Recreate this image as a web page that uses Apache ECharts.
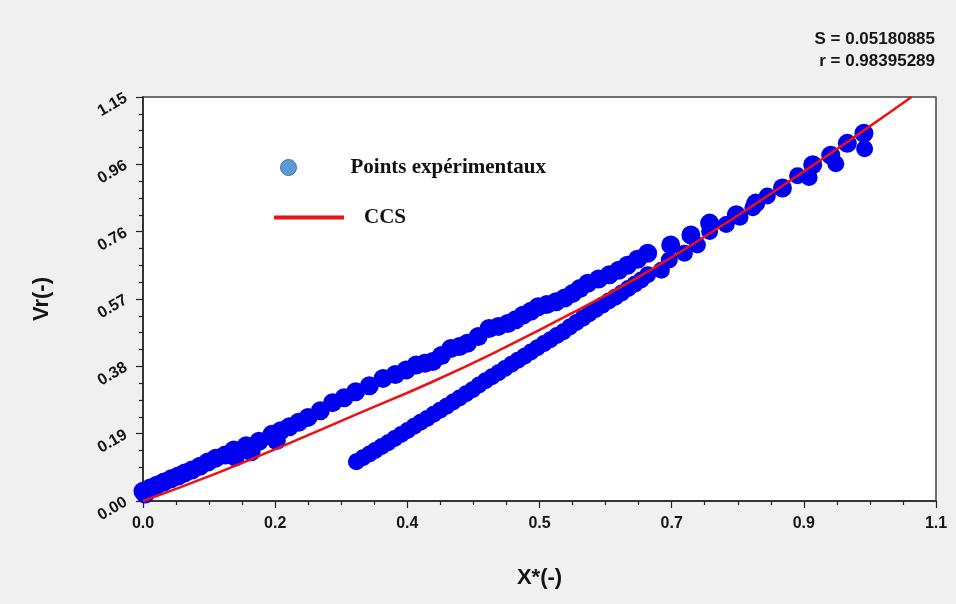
<!DOCTYPE html>
<html>
<head>
<meta charset="utf-8">
<script src="https://cdn.jsdelivr.net/npm/echarts@6/dist/echarts.min.js"></script>
<style>
  html, body { margin: 0; padding: 0; background: #f0f0f0; }
  #chart { width: 956px; height: 604px; }
</style>
</head>
<body>
<div id="chart"></div>
<script>
// Tick labels as printed on each axis (six equal steps of the axis range)
const xTickLabels = ['0.0', '0.2', '0.4', '0.5', '0.7', '0.9', '1.1'];
const yTickLabels = ['0.00', '0.19', '0.38', '0.57', '0.76', '0.96', '1.15'];
const xMax = 1.1;
const yMax = 1.15;

// Experimental points, first branch (from the origin upward)
const upperX = [0.000, 0.003, 0.010, 0.019, 0.029, 0.039, 0.049, 0.058, 0.068, 0.079, 0.090, 0.101, 0.114, 0.126, 0.128, 0.143, 0.150, 0.161, 0.179, 0.185, 0.191, 0.203, 0.216, 0.229, 0.246, 0.263, 0.279, 0.295, 0.314, 0.333, 0.350, 0.365, 0.379, 0.391, 0.402, 0.414, 0.427, 0.439, 0.450, 0.465, 0.480, 0.493, 0.506, 0.517, 0.527, 0.538, 0.548, 0.560, 0.573, 0.585, 0.596, 0.606, 0.617, 0.632, 0.647, 0.660, 0.672, 0.686, 0.700, 0.732, 0.760, 0.786, 0.823, 0.850, 0.887, 0.929, 0.954, 0.977, 1.000];
const upperY = [0.028, 0.020, 0.037, 0.045, 0.054, 0.063, 0.071, 0.080, 0.088, 0.099, 0.111, 0.122, 0.131, 0.145, 0.125, 0.157, 0.140, 0.170, 0.190, 0.172, 0.200, 0.211, 0.224, 0.238, 0.257, 0.280, 0.294, 0.311, 0.328, 0.349, 0.360, 0.373, 0.387, 0.392, 0.397, 0.414, 0.434, 0.440, 0.449, 0.468, 0.491, 0.497, 0.505, 0.516, 0.529, 0.540, 0.553, 0.559, 0.567, 0.578, 0.591, 0.605, 0.620, 0.632, 0.644, 0.657, 0.671, 0.688, 0.705, 0.729, 0.757, 0.791, 0.815, 0.848, 0.891, 0.957, 0.984, 1.018, 1.047];

// Experimental points, second branch (starting near X* = 0.3)
const lowerX = [0.296, 0.305, 0.314, 0.322, 0.331, 0.340, 0.349, 0.358, 0.367, 0.376, 0.385, 0.394, 0.403, 0.412, 0.421, 0.430, 0.439, 0.448, 0.457, 0.466, 0.475, 0.484, 0.493, 0.502, 0.511, 0.520, 0.529, 0.538, 0.547, 0.556, 0.565, 0.574, 0.583, 0.592, 0.601, 0.610, 0.619, 0.628, 0.637, 0.646, 0.655, 0.664, 0.673, 0.682, 0.691, 0.700, 0.719, 0.730, 0.751, 0.769, 0.786, 0.809, 0.828, 0.846, 0.866, 0.908, 0.924, 0.961, 1.001];
const lowerY = [0.112, 0.123, 0.134, 0.144, 0.155, 0.166, 0.178, 0.189, 0.201, 0.213, 0.224, 0.235, 0.247, 0.258, 0.270, 0.282, 0.293, 0.305, 0.317, 0.330, 0.342, 0.354, 0.365, 0.377, 0.389, 0.401, 0.412, 0.424, 0.436, 0.448, 0.459, 0.471, 0.482, 0.495, 0.508, 0.520, 0.533, 0.545, 0.557, 0.569, 0.580, 0.592, 0.605, 0.617, 0.629, 0.644, 0.657, 0.686, 0.705, 0.729, 0.767, 0.787, 0.808, 0.835, 0.868, 0.926, 0.921, 0.960, 1.003];

// CCS model curve
const ccsX = [0.000, 0.100, 0.200, 0.300, 0.400, 0.500, 0.600, 0.700, 0.800, 0.900, 1.000, 1.066];
const ccsY = [0.000, 0.077, 0.162, 0.250, 0.338, 0.435, 0.540, 0.653, 0.780, 0.915, 1.055, 1.150];

const zip = (xs, ys) => xs.map((x, i) => [x, ys[i]]);
const xStep = xMax / 6;
const yStep = yMax / 6;

const chart = echarts.init(document.getElementById('chart'), null, { renderer: 'canvas' });

const sansBold = { fontFamily: 'Liberation Sans, Arial, sans-serif', fontWeight: 'bold', color: '#151515' };
const serifBold = { fontFamily: 'Liberation Serif, Times New Roman, serif', fontWeight: 'bold', fontSize: 21, color: '#111' };

chart.setOption({
  backgroundColor: '#f0f0f0',
  animation: false,
  title: [
    { text: 'S = 0.05180885', right: 21, top: 31, padding: 0, textStyle: Object.assign({ fontSize: 17 }, sansBold) },
    { text: 'r = 0.98395289', right: 21, top: 53, padding: 0, textStyle: Object.assign({ fontSize: 17 }, sansBold) }
  ],
  legend: [
    {
      data: [{ name: 'Points expérimentaux', icon: 'circle', itemStyle: { color: '#5b9bd5', borderColor: '#41719c', borderWidth: 1 } }],
      left: 280, top: 157, orient: 'vertical', padding: 0,
      itemWidth: 16, itemHeight: 18,
      selectedMode: false,
      textStyle: Object.assign({ padding: [0, 0, 0, 49] }, serifBold)
    },
    {
      data: [{ name: 'CCS', icon: 'rect', itemStyle: { color: '#ee1111' } }],
      left: 274, top: 207, orient: 'vertical', padding: 0,
      itemWidth: 70, itemHeight: 4,
      selectedMode: false,
      textStyle: Object.assign({ padding: [0, 0, 0, 15] }, serifBold)
    }
  ],
  grid: {
    left: 143, right: 20, top: 97, bottom: 103,
    show: true, backgroundColor: '#ffffff', borderColor: '#444', borderWidth: 1.5
  },
  xAxis: {
    type: 'value', min: 0, max: xMax, interval: xStep,
    name: 'X*(-)', nameLocation: 'middle', nameGap: 66,
    nameTextStyle: Object.assign({ fontSize: 22 }, sansBold),
    axisLine: { lineStyle: { color: '#222', width: 1.5 } },
    axisTick: { show: true, length: 7, lineStyle: { color: '#222', width: 1.2 } },
    minorTick: { show: true, splitNumber: 4, length: 4, lineStyle: { color: '#222', width: 1.2 } },
    splitLine: { show: false },
    axisLabel: Object.assign({ margin: 15, fontSize: 16, formatter: v => xTickLabels[Math.round(v / xStep)] }, sansBold)
  },
  yAxis: {
    type: 'value', min: 0, max: yMax, interval: yStep,
    name: 'Vr(-)', nameLocation: 'middle', nameGap: 90,
    nameTextStyle: Object.assign({ fontSize: 22 }, sansBold),
    axisLine: { lineStyle: { color: '#222', width: 1.5 } },
    axisTick: { show: true, length: 7, lineStyle: { color: '#222', width: 1.2 } },
    minorTick: { show: true, splitNumber: 4, length: 4, lineStyle: { color: '#222', width: 1.2 } },
    splitLine: { show: false },
    axisLabel: Object.assign({ margin: 17, fontSize: 16, rotate: 30, formatter: v => yTickLabels[Math.round(v / yStep)] }, sansBold)
  },
  series: [
    {
      name: 'Points expérimentaux', type: 'scatter', symbol: 'circle', symbolSize: 19,
      itemStyle: { color: '#0000f0', opacity: 1 },
      data: zip(upperX, upperY), z: 2
    },
    {
      name: 'Points expérimentaux', type: 'scatter', symbol: 'circle', symbolSize: 17,
      itemStyle: { color: '#0000f0', opacity: 1 },
      data: zip(lowerX, lowerY), z: 2
    },
    {
      name: 'CCS', type: 'line', smooth: true, showSymbol: false,
      lineStyle: { color: '#ee1111', width: 2.5 },
      itemStyle: { color: '#ee1111' },
      data: zip(ccsX, ccsY), z: 3
    }
  ]
});
</script>
</body>
</html>
